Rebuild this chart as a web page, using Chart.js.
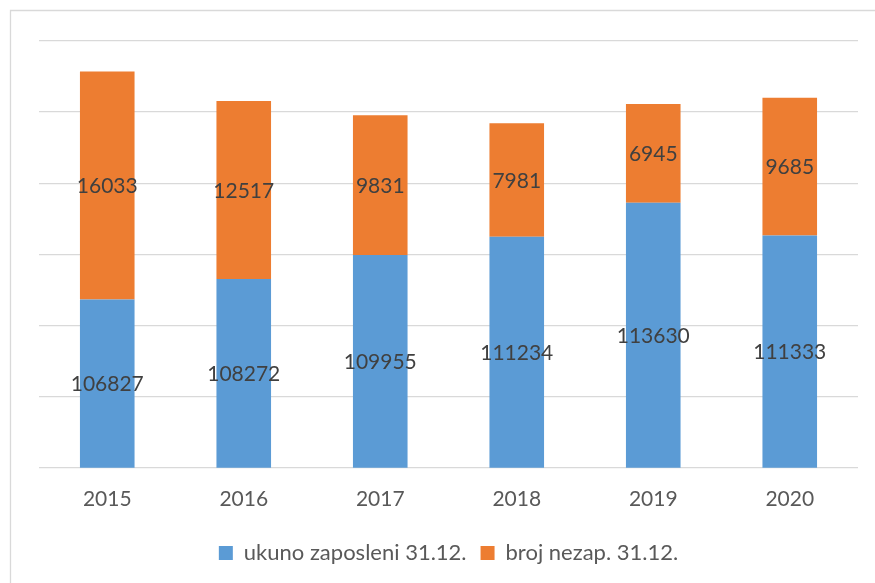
<!DOCTYPE html>
<html>
<head>
<meta charset="utf-8">
<script src="https://cdn.jsdelivr.net/npm/chart.js@4/dist/chart.umd.min.js"></script>
<style>
  html, body { margin: 0; padding: 0; background: #fff; }
  #wrap { width: 875px; height: 583px; position: relative; }
</style>
</head>
<body>
<div id="wrap"><canvas id="chart"></canvas></div>
<script>
// podaci
var godine = ["2015", "2016", "2017", "2018", "2019", "2020"];
var zaposleni = [106827, 108272, 109955, 111234, 113630, 111333];
var nezaposleni = [16033, 12517, 9831, 7981, 6945, 9685];

var font = "Lato, 'Open Sans', sans-serif";

// oznake vrijednosti u sredini vidljivog dijela stupca
var oznake = {
  id: 'oznake',
  afterDatasetsDraw: function (chart) {
    var ctx = chart.ctx;
    var dno = chart.chartArea.bottom;
    ctx.save();
    ctx.font = "21px " + font;
    ctx.fillStyle = "#404040";
    ctx.textAlign = "center";
    ctx.textBaseline = "middle";
    chart.data.datasets.forEach(function (ds, i) {
      chart.getDatasetMeta(i).data.forEach(function (bar, j) {
        var p = bar.getProps(['x', 'y', 'base'], true);
        var b = Math.min(p.base, dno);
        ctx.fillText(ds.data[j], p.x, (p.y + b) / 2 + 1);
      });
    });
    ctx.restore();
  }
};

// okvir grafikona
var okvir = {
  id: 'okvir',
  beforeDraw: function (chart) {
    var ctx = chart.ctx;
    ctx.save();
    ctx.strokeStyle = "#d9d9d9";
    ctx.lineWidth = 1.3;
    ctx.beginPath();
    ctx.moveTo(10.5, 583);
    ctx.lineTo(10.5, 10.5);
    ctx.lineTo(875, 10.5);
    ctx.stroke();
    ctx.restore();
  }
};

new Chart(document.getElementById("chart"), {
  type: 'bar',
  data: {
    labels: godine,
    datasets: [{
      label: "ukuno zaposleni 31.12.",
      data: zaposleni,
      backgroundColor: '#5B9BD5'
    }, {
      label: "broj nezap. 31.12.",
      data: nezaposleni,
      backgroundColor: '#ED7D31'
    }]
  },
  options: {
    responsive: true,
    maintainAspectRatio: false,
    animation: false,
    layout: { padding: { left: 39, right: 17, top: 41, bottom: 9 } },
    datasets: { bar: { categoryPercentage: 1, barPercentage: 0.4 } },
    scales: {
      x: {
        stacked: true,
        grid: { display: false },
        border: { display: false },
        ticks: { color: '#595959', font: { family: font, size: 21 }, padding: 11 },
        afterFit: function (scale) { scale.height += 5; }
      },
      y: {
        stacked: true,
        min: 95000,
        max: 125000,
        ticks: { display: false, stepSize: 5000 },
        border: { display: false },
        grid: { color: '#d9d9d9', lineWidth: 1.3, drawTicks: false }
      }
    },
    plugins: {
      legend: {
        position: 'bottom',
        labels: {
          color: '#595959',
          font: { family: font, size: 22 },
          boxWidth: 14,
          boxHeight: 14,
          padding: 14
        }
      },
      tooltip: { enabled: false }
    }
  },
  plugins: [oznake, okvir]
});
</script>
</body>
</html>
